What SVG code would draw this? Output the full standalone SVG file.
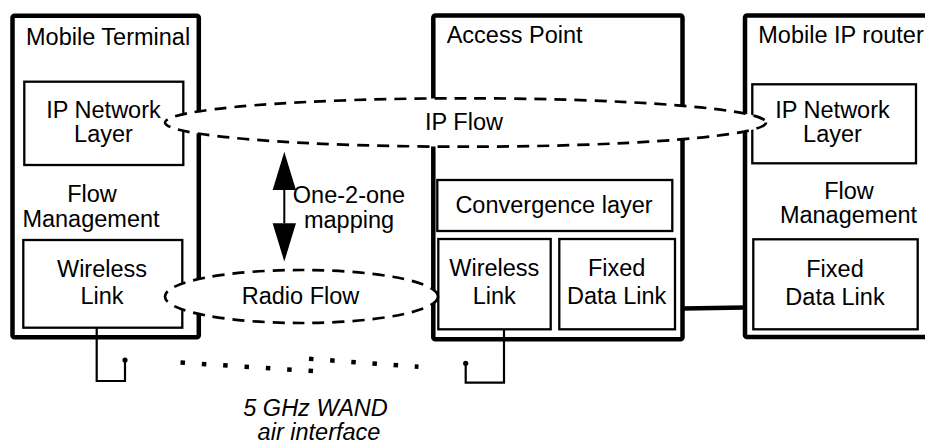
<svg xmlns="http://www.w3.org/2000/svg" width="925" height="444" viewBox="0 0 925 444">
  <style>
    text { font-family: "Liberation Sans", Arial, sans-serif; font-size: 23.5px; fill: #000; }
    .c { text-anchor: middle; }
    .it { font-style: italic; }
    .outer { fill: #fff; stroke: #000; stroke-width: 4.5; }
    .inner { fill: #fff; stroke: #000; stroke-width: 2.3; }
    .flow { fill: #fff; stroke: #000; stroke-width: 2.7; stroke-dasharray: 12 8; }
    .ant { fill: none; stroke: #000; stroke-width: 2.2; }
    .dots { fill: none; stroke: #000; stroke-width: 4.5; }
  </style>
  <defs>
    <marker id="ah" markerUnits="userSpaceOnUse" markerWidth="40" markerHeight="24" refX="0" refY="11.65" orient="auto-start-reverse" overflow="visible">
      <path d="M0,0 L38.3,11.65 L0,23.3 Z" fill="#000"/>
    </marker>
  </defs>

  <g id="mobile-terminal">
    <rect class="outer" x="12.5" y="15.8" width="186.3" height="321.4" rx="2"/>
    <text x="26" y="45">Mobile Terminal</text>
    <rect class="inner" x="24.3" y="81.7" width="159" height="83.3"/>
    <text class="c" x="103.5" y="118.3">IP Network</text>
    <text class="c" x="103.5" y="141.7">Layer</text>
    <text class="c" x="92" y="202">Flow</text>
    <text class="c" x="91" y="226.7">Management</text>
    <rect class="inner" x="23.3" y="240" width="159" height="87.7"/>
    <text class="c" x="102" y="276.7">Wireless</text>
    <text class="c" x="102" y="304">Link</text>
  </g>

  <g id="access-point">
    <rect class="outer" x="433.3" y="15.5" width="249.2" height="323.8" rx="2"/>
    <text x="446.7" y="43.3">Access Point</text>
    <rect class="inner" x="437.3" y="180" width="235" height="51"/>
    <text class="c" x="554" y="213.3">Convergence layer</text>
    <rect class="inner" x="438.3" y="239" width="112.4" height="90.3"/>
    <text class="c" x="494.3" y="275.5">Wireless</text>
    <text class="c" x="494.3" y="303.5">Link</text>
    <rect class="inner" x="559.3" y="239" width="115.7" height="90.3"/>
    <text class="c" x="616.7" y="275.5">Fixed</text>
    <text class="c" x="616.7" y="303.5">Data Link</text>
  </g>

  <g id="mobile-ip-router">
    <rect class="outer" x="745" y="15.5" width="200" height="321.5" rx="2"/>
    <text x="758.3" y="43.3">Mobile IP router</text>
    <rect class="inner" x="752.3" y="84.3" width="163.7" height="79"/>
    <text class="c" x="832.5" y="118.3">IP Network</text>
    <text class="c" x="832.5" y="141.7">Layer</text>
    <text class="c" x="849" y="198.5">Flow</text>
    <text class="c" x="848.5" y="222.7">Management</text>
    <rect class="inner" x="753.3" y="239.3" width="164.4" height="90"/>
    <text class="c" x="835" y="276.7">Fixed</text>
    <text class="c" x="835" y="305">Data Link</text>
  </g>

  <g id="connectors">
    <line x1="682.5" y1="308.5" x2="745" y2="307.5" stroke="#000" stroke-width="4.5"/>
    <g id="ip-flow">
      <ellipse class="flow" cx="465.5" cy="122.5" rx="300.5" ry="24.2"/>
      <text class="c" x="464" y="130">IP Flow</text>
    </g>
    <g id="radio-flow">
      <ellipse class="flow" cx="301.5" cy="296.5" rx="136.5" ry="26.5"/>
      <text class="c" x="300.5" y="304">Radio Flow</text>
    </g>
    <line x1="284.3" y1="190" x2="284.3" y2="223.3" stroke="#000" stroke-width="2" marker-start="url(#ah)" marker-end="url(#ah)"/>
    <text class="c" x="349" y="203.3">One-2-one</text>
    <text class="c" x="349" y="227.5">mapping</text>
    <path class="ant" d="M96.7,327.7 V381 H125 V360"/>
    <circle cx="125" cy="360" r="2.6" fill="#000"/>
    <path class="ant" d="M504,329.3 V382.7 H465.7 V363.3"/>
    <circle cx="465.7" cy="363.3" r="2.6" fill="#000"/>
    <path class="dots" d="M180.5,362.5 L313,371.1" stroke-dasharray="4.5 16.88"/>
    <path class="dots" d="M309,358.8 L418.5,366.8" stroke-dasharray="4.5 16.7"/>
  </g>

  <text class="c it" x="315.5" y="416">5 GHz WAND</text>
  <text class="c it" x="319" y="440">air interface</text>
</svg>
